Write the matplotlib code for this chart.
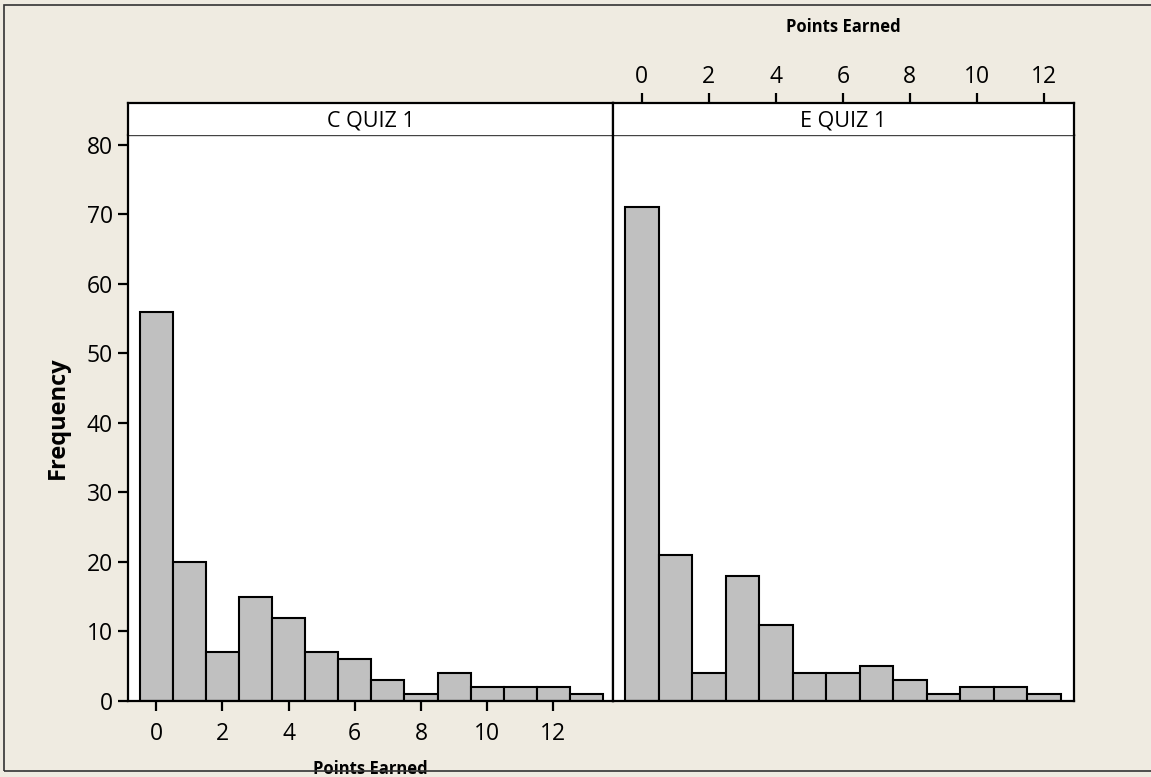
import numpy as np
import matplotlib
matplotlib.use("Agg")
import matplotlib.pyplot as plt
from matplotlib.patches import Rectangle

# Histogramm-Daten (Punkte 0..13 bzw. 0..12)
punkte_c = list(range(14))
freq_c = [56, 20, 7, 15, 12, 7, 6, 3, 1, 4, 2, 2, 2, 1]
punkte_e = list(range(13))
freq_e = [71, 21, 4, 18, 11, 4, 4, 5, 3, 1, 2, 2, 1]
panel_titel = ["C QUIZ 1", "E QUIZ 1"]
x_ticks = [0, 2, 4, 6, 8, 10, 12]
y_ticks = [0, 10, 20, 30, 40, 50, 60, 70, 80]

W, H = 1151, 777
bg = "#EFEBE1"
plt.rcParams['font.family'] = ['Open Sans', 'DejaVu Sans']

fig = plt.figure(figsize=(W / 100, H / 100), dpi=100)
fig.patch.set_facecolor(bg)

# aeusserer Rahmen (rechts ausserhalb des Bildes)
fig.patches.append(Rectangle((4 / W, (H - 771) / H), 1.5, (771 - 5) / H,
                             transform=fig.transFigure, fill=False,
                             edgecolor="#333333", linewidth=1.2))

def px_axes(x0, x1, ytop, ybot):
    return fig.add_axes([x0 / W, (H - ybot) / H, (x1 - x0) / W, (ybot - ytop) / H])

ax1 = px_axes(128, 613, 135, 701)
ax2 = px_axes(613, 1074, 135, 701)
s1 = px_axes(128, 613, 103, 135)
s2 = px_axes(613, 1074, 103, 135)

ax1.bar(punkte_c, freq_c, width=1.0, color="#C0C0C0", edgecolor="black", linewidth=1.5)
ax2.bar(punkte_e, freq_e, width=1.0, color="#C0C0C0", edgecolor="black", linewidth=1.5)

ax1.set_xlim(-0.85, 13.8)
ax2.set_xlim(-0.86, 12.9)
s1.set_xlim(ax1.get_xlim())
s2.set_xlim(ax2.get_xlim())
for ax in (ax1, ax2):
    ax.set_ylim(0, 81.4)
    ax.set_facecolor("white")
    for sp in ax.spines.values():
        sp.set_linewidth(1.6)
    ax.spines['top'].set_linewidth(1.0)
    ax.spines['top'].set_color("#444444")

for s, t in zip((s1, s2), panel_titel):
    s.set_facecolor("white")
    s.set_yticks([])
    s.set_xticks([])
    for sp in s.spines.values():
        sp.set_linewidth(1.6)
    s.spines['bottom'].set_visible(False)
    s.text(0.5, 0.45, t, transform=s.transAxes, ha="center", va="center", fontsize=15.5)

# linkes Panel: y-Achse und x-Achse unten
ax1.set_yticks(y_ticks)
ax1.set_xticks(x_ticks)
ax1.tick_params(axis="y", length=7, width=1.6, labelsize=16.5, pad=4)
ax1.tick_params(axis="x", length=7, width=1.6, labelsize=16.5, pad=8)
ax1.set_ylabel("Frequency", fontsize=17, fontweight="bold", labelpad=12)
ax1.set_xlabel("Points Earned", fontsize=12, fontweight="bold", labelpad=10)

# rechtes Panel: keine y-Ticks, x-Achse oben
ax2.set_yticks([])
ax2.set_xticks([])
s2.set_xticks(x_ticks)
s2.xaxis.set_ticks_position("top")
s2.xaxis.set_label_position("top")
s2.tick_params(axis="x", length=7, width=1.6, labelsize=16.5, pad=3)
s2.set_xlabel("Points Earned", fontsize=12, fontweight="bold", labelpad=24)

fig.savefig("out.png", dpi=100, facecolor=bg)
